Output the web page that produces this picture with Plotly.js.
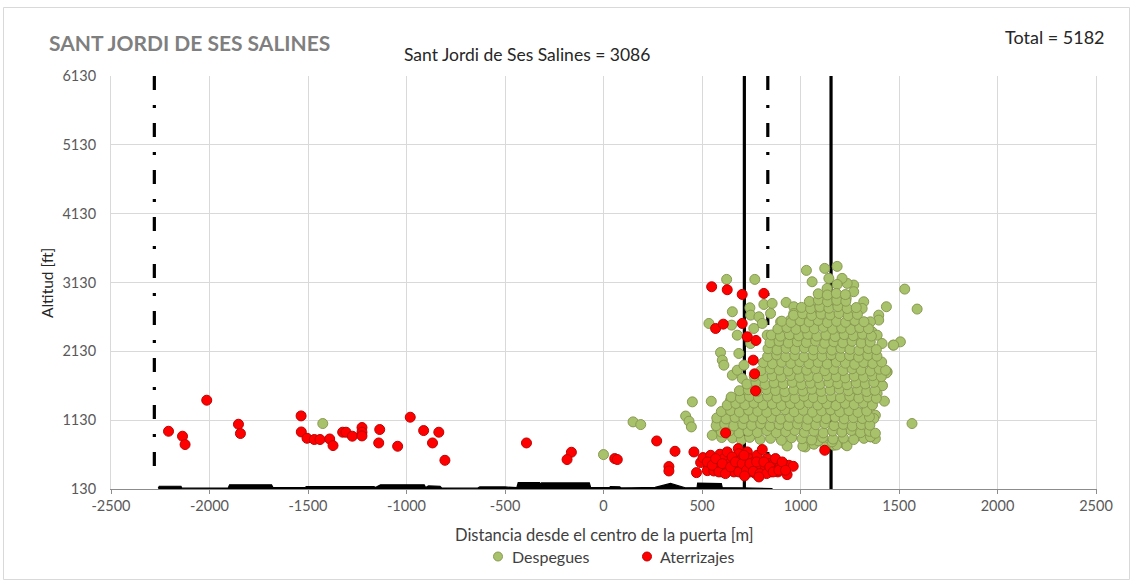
<!DOCTYPE html>
<html>
<head>
<meta charset="utf-8">
<script src="https://cdn.plot.ly/plotly-3.0.1.min.js"></script>
<style>
html,body{margin:0;padding:0;background:#fff;}
#chart{width:1133px;height:584px;}
</style>
</head>
<body>
<div id="chart"></div>
<script>
// ---- Texts ----
const chartTitle = "SANT JORDI DE SES SALINES";
const subTitle = "Sant Jordi de Ses Salines = 3086";
const totalText = "Total = 5182";
const xTitle = "Distancia desde el centro de la puerta [m]";
const yTitle = "Altitud [ft]";
const seriesNames = ["Despegues", "Aterrizajes"];

// ---- Axis ticks ----
const xTicks = [-2500, -2000, -1500, -1000, -500, 0, 500, 1000, 1500, 2000, 2500];
const yTicks = [130, 1130, 2130, 3130, 4130, 5130, 6130];

// ---- Reference lines (x positions in m) ----
const solidLinesX = [715, 1155];
const dashDotLinesX = [-2280, 834];
const dashDotBottom = 340;

// ---- Terrain profile along the axis [m, ft] ----
const terreno = [[-2260,140],[-2255,170],[-2145,170],[-2140,142],[-1905,145],[-1898,190],[-1685,190],[-1678,150],
  [-1515,152],[-1508,165],[-1165,165],[-1158,152],[-1132,190],[-910,190],[-903,150],[-888,175],[-830,170],[-822,145],
  [-640,142],[-628,160],[-500,160],[-440,150],[-433,222],[-325,222],[-320,200],[-315,218],[-72,218],[-65,150],
  [30,150],[35,165],[82,162],[90,145],[140,148],[262,155],[340,210],[405,165],[415,148],[475,152],[478,215],
  [598,210],[603,150],[700,148],[850,145],[855,135]];

// ---- Despegues (take-offs) [m, ft] ----
const despeguesDispersos = [
  [-1425,1081],[0,630],[150,1105],[189,1066],[417,1190],[434,1115],[446,1032],[451,1396],[547,1405],[552,911],[577,1032],[611,1154],
  [625,3175],[768,3175],[1030,3306],[1123,3335],[1186,3364],[1144,3190],[1059,3141],[1529,3034],[1592,2744],[1436,2778],
  [535,2535],[654,2705],[650,2511],[743,2763],[814,2811],[856,2826],[927,2840],[966,2778],[1507,2268],[1470,2220],
  [1397,2656],[1397,2584],[1321,2850],[1313,2753],[1270,3093],[1237,3117],[1211,3190],[1270,2996],[1232,2899],[1186,3102],
  [1135,3044],[1152,2875],[1093,2875],[1059,2753],[1110,2729],[1203,2778],[1220,2705],[1267,2714],[1355,2559],[1363,2414],
  [1330,2487],[747,2656],[789,2632],[806,2535],[763,2462],[848,2680],[899,2559],[916,2487],[949,2584],[966,2680],
  [1000,2511],[1034,2656],[1051,2559],[1085,2632],[1118,2511],[1169,2584],[1194,2462],[1237,2559],[1287,2584],[1254,2365],
  [1304,2317],[1389,2365],[1414,2244],[679,2365],[831,2365],[882,2268],[949,2317],[1017,2341],[1085,2317],[1152,2365],
  [1203,2268],[747,2244],[594,2113],[603,2002],[611,1929],[654,1784],[679,1856],[713,1929],[704,1735],[687,2099],
  [1338,2002],[1363,1905],[1406,1808],[1440,1832],[1414,1638],[1389,1517],[1363,1347],[1380,1202],[1321,1250],[1270,1493],
  [1566,1081],[1473,2220],[696,1541],[645,1420],[628,1250],[577,1105],[1436,1817],[1416,1630],[1426,1406],
  [1372,1154],[1380,863],[1355,887],[1025,741],[1169,766],[1228,775],[932,756],[1304,911]
];
const despeguesNucleo = [
  [1012,752],[1068,781],[1125,744],[1183,770],[1236,758],[1160,815],[1090,830],
  [600,878],[655,872],[700,845],[742,880],[795,851],[848,866],[903,838],[955,874],[1008,860],[1057,842],[1112,879],[1165,855],[1218,870],[1270,848],[1322,866],[1355,890],
  [598,958],[640,975],[688,944],[734,969],[781,950],[829,978],[877,946],[925,963],[972,981],[1020,952],[1068,970],[1116,945],[1163,973],[1210,957],[1258,980],[1305,949],[1350,968],[1380,940],
  [572,1050],[615,1072],[661,1046],[707,1068],[752,1055],[798,1079],[845,1043],[892,1066],[938,1052],[985,1075],[1031,1048],[1078,1063],[1124,1080],[1170,1051],[1217,1069],[1263,1044],[1309,1066],[1352,1058],
  [575,1162],[622,1148],[668,1171],[713,1155],[760,1176],[806,1150],[852,1168],[899,1146],[945,1173],[991,1158],[1037,1144],[1084,1170],[1130,1152],[1176,1175],[1222,1149],[1268,1167],[1314,1154],[1350,1178],
  [598,1255],[645,1270],[690,1248],[736,1276],[783,1259],[829,1244],[876,1268],[922,1281],[968,1252],[1014,1273],[1061,1246],[1107,1265],[1153,1279],[1199,1250],[1246,1268],[1292,1243],[1336,1262],
  [628,1348],[672,1372],[718,1355],[764,1378],[810,1351],[857,1366],[903,1343],[949,1371],[995,1358],[1042,1380],[1088,1349],[1134,1367],[1180,1344],[1227,1373],[1273,1356],[1319,1379],[1365,1352],
  [648,1466],[695,1449],[741,1474],[787,1457],[833,1480],[880,1452],[926,1468],[972,1447],[1018,1476],[1065,1459],[1111,1442],[1157,1470],[1203,1455],[1250,1478],[1296,1451],[1342,1466],[1385,1448],
  [690,1558],[735,1572],[781,1549],[827,1575],[873,1561],[920,1544],[966,1570],[1012,1553],[1058,1579],[1105,1548],[1151,1566],[1197,1582],[1243,1557],[1290,1574],[1336,1546],[1378,1563],
  [728,1655],[774,1678],[820,1649],[866,1671],[913,1658],[959,1680],[1005,1647],[1051,1669],[1098,1652],[1144,1677],[1190,1660],[1236,1645],[1283,1672],[1329,1656],[1372,1679],
  [765,1768],[811,1750],[857,1774],[903,1757],[950,1779],[996,1752],[1042,1766],[1088,1748],[1135,1775],[1181,1760],[1227,1744],[1273,1771],[1320,1755],[1366,1777],[1410,1762],
  [800,1852],[846,1874],[892,1858],[938,1845],[985,1871],[1031,1856],[1077,1879],[1123,1849],[1170,1867],[1216,1852],[1262,1876],[1308,1858],[1355,1844],[1400,1870],[1432,1855],
  [812,1966],[858,1949],[905,1972],[951,1955],[997,1978],[1043,1951],[1090,1969],[1136,1946],[1182,1974],[1228,1958],[1275,1941],[1321,1967],[1367,1953],[1412,1975],
  [833,2055],[879,2078],[925,2052],[971,2070],[1018,2049],[1064,2073],[1110,2058],[1156,2080],[1203,2053],[1249,2068],[1295,2045],[1342,2071],[1388,2060],
  [835,2168],[881,2150],[927,2174],[973,2157],[1020,2179],[1066,2152],[1112,2166],[1159,2148],[1205,2175],[1251,2159],[1297,2144],[1344,2170],[1385,2155],
  [845,2255],[891,2277],[938,2251],[984,2270],[1030,2258],[1077,2280],[1123,2247],[1169,2268],[1215,2253],[1262,2276],[1308,2250],[1354,2266],
  [852,2368],[898,2350],[944,2372],[991,2355],[1037,2377],[1083,2351],[1129,2366],[1176,2345],[1222,2373],[1268,2357],[1315,2379],[1360,2352],
  [885,2455],[931,2476],[977,2450],[1024,2470],[1070,2458],[1116,2481],[1163,2452],[1209,2469],[1255,2447],[1301,2474],[1345,2459],
  [905,2568],[952,2550],[998,2574],[1044,2557],[1090,2579],[1137,2548],[1183,2566],[1229,2552],[1276,2577],[1322,2560],
  [965,2655],[1011,2676],[1057,2651],[1104,2670],[1150,2658],[1196,2680],[1242,2648],[1289,2667],
  [1005,2768],[1051,2750],[1098,2774],[1144,2757],[1190,2779],[1237,2752],[1283,2766],
  [1045,2855],[1091,2876],[1137,2850],[1184,2871],[1230,2858],
  [1090,2966],[1136,2949],[1182,2972],[1228,2955]
];

// ---- Aterrizajes (landings) [m, ft] ----
const aterrizajesLejanos = [
  [-2208,969],[-2137,897],[-2124,776],[-2014,1420],[-1853,1071],[-1843,936],[-1535,1192],[-1534,959],[-1505,867],
  [-1468,849],[-1439,849],[-1390,857],[-1373,761],[-1324,955],[-1307,955],[-1275,897],[-1226,1023],[-1226,955],
  [-1226,901],[-1136,994],[-1141,799],[-1045,751],[-981,1173],[-913,979],[-868,799],[-836,955],[-805,547],
  [-391,799],[-163,664],[-185,558],[57,572],[70,558],[270,828],[363,678],[332,456],[332,392],[459,668]
];
const aterrizajesAltos = [
  [549,3068],[628,3025],[704,2957],[814,2971],[569,2462],[608,2525],[704,2535],[730,2341],[774,2288],
  [760,2002],[767,1803],[772,1556],[620,945],[1123,693]
];
const aterrizajesNucleo = [
  [472,368],[493,514],[505,586],[527,397],[544,620],[560,392],[577,450],[591,635],[603,378],[611,572],[625,460],
  [637,402],[648,523],[662,378],[679,450],[684,717],[687,644],[696,547],[704,402],[713,354],[721,475],[730,669],
  [738,572],[746,378],[755,450],[763,523],[772,354],[780,620],[789,402],[797,475],[806,703],[811,378],[822,426],
  [831,572],[839,499],[848,378],[856,450],[865,499],[882,450],[885,378],[899,475],[915,450],[932,339],[941,475],[963,460],
  [527,523],[552,475],[569,572],[586,378],[603,499],[619,354],[628,669],[645,450],[653,596],[670,523],[687,378],
  [704,499],[713,620],[726,402],[743,499],[760,387],[777,523],[794,354],[814,523],[828,354],[844,450],[861,378],
  [873,572],[890,402],[907,523],[924,402],[789,305],[716,320]
];

// ---- Build traces ----
const xs = a => a.map(p => p[0]);
const ys = a => a.map(p => p[1]);
const despegues = despeguesDispersos.concat(despeguesNucleo);
const aterrizajes = aterrizajesLejanos.concat(aterrizajesAltos, aterrizajesNucleo);

const GREEN = '#a7c26b', GREEN_LINE = '#8a9a52', RED = '#ff0000', RED_LINE = '#c00000';

const traces = [];
// terrain polygon
const terrX = xs(terreno).concat([terreno[terreno.length-1][0], terreno[0][0]]);
const terrY = ys(terreno).concat([120, 120]);
traces.push({type:'scatter', mode:'lines', x:terrX, y:terrY, fill:'toself', fillcolor:'#000',
  line:{color:'#000', width:1.2}, showlegend:false, hoverinfo:'skip'});
// solid lines
solidLinesX.forEach(v => traces.push({type:'scatter', mode:'lines', x:[v,v], y:[yTicks[yTicks.length-1], yTicks[0]],
  line:{color:'#000', width:3.2}, showlegend:false, hoverinfo:'skip'}));
// dash-dot lines
dashDotLinesX.forEach(v => traces.push({type:'scatter', mode:'lines', x:[v,v], y:[yTicks[yTicks.length-1], dashDotBottom],
  line:{color:'#000', width:3.2, dash:'14px,15px,3px,15px'}, showlegend:false, hoverinfo:'skip'}));

traces.push({type:'scatter', mode:'markers', name:seriesNames[0], x:xs(despegues), y:ys(despegues), showlegend:false,
  marker:{size:10, color:GREEN, line:{color:GREEN_LINE, width:1}}});
traces.push({type:'scatter', mode:'markers', name:seriesNames[1], x:xs(aterrizajes), y:ys(aterrizajes), showlegend:false,
  marker:{size:10, color:RED, line:{color:RED_LINE, width:1}}});

const L = 111, R = 1096, T = 76, B = 489;
const px = v => (v - L) / (R - L);
const py = v => (B - v) / (B - T);
const FONT = 'Lato, "Open Sans", sans-serif';

// legend drawn as symbols + labels
const legendItems = [
  {name:seriesNames[0], cx:498, tx:510, fill:GREEN, line:GREEN_LINE},
  {name:seriesNames[1], cx:647, tx:658, fill:RED, line:RED_LINE}
];
const legendY = 556.5;

const annotations = [
  {text:chartTitle, xref:'paper', yref:'paper', x:px(47), y:py(42), xanchor:'left', yanchor:'middle', showarrow:false,
    font:{family:FONT, size:21, color:'#7f7f7f', weight:'bold'}},
  {text:subTitle, xref:'paper', yref:'paper', x:px(527), y:py(54), xanchor:'center', yanchor:'middle', showarrow:false,
    font:{family:FONT, size:17.5, color:'#262626'}},
  {text:totalText, xref:'paper', yref:'paper', x:px(1107), y:py(37), xanchor:'right', yanchor:'middle', showarrow:false,
    font:{family:FONT, size:18, color:'#262626'}},
  {text:yTitle, xref:'paper', yref:'paper', x:px(47), y:py(283), xanchor:'center', yanchor:'middle', textangle:-90, showarrow:false,
    font:{family:FONT, size:15.5, color:'#262626'}},
  {text:xTitle, xref:'paper', yref:'paper', x:px(604), y:py(535), xanchor:'center', yanchor:'middle', showarrow:false,
    font:{family:FONT, size:16.5, color:'#404040'}}
];
const shapes = [
  {type:'rect', xref:'paper', yref:'paper', x0:px(3.5), x1:px(1129.5), y0:py(579.5), y1:py(7.5),
    line:{color:'#d9d9d9', width:1}, fillcolor:'rgba(0,0,0,0)', layer:'below'}
];
legendItems.forEach(it => {
  shapes.push({type:'circle', xref:'paper', yref:'paper', x0:px(it.cx-4.5), x1:px(it.cx+4.5), y0:py(legendY+4.5), y1:py(legendY-4.5),
    fillcolor:it.fill, line:{color:it.line, width:1}});
  annotations.push({text:it.name, xref:'paper', yref:'paper', x:px(it.tx), y:py(legendY), xanchor:'left', yanchor:'middle',
    showarrow:false, font:{family:FONT, size:16, color:'#404040'}});
});

const layout = {
  width:1133, height:584,
  margin:{l:L, r:1133-R, t:T, b:584-B, pad:0},
  paper_bgcolor:'#fff', plot_bgcolor:'#fff',
  font:{family:FONT, color:'#595959', size:13},
  showlegend:false,
  xaxis:{range:[-2500,2500], tickvals:xTicks, ticktext:xTicks.map(String), showgrid:true, gridcolor:'#d9d9d9', gridwidth:1,
    zeroline:false, showline:true, linecolor:'#8c8c8c', linewidth:1, ticks:'outside', ticklen:4, tickcolor:'#8c8c8c',
    tickfont:{family:FONT, size:14.5, color:'#595959'}, fixedrange:true},
  yaxis:{range:[130,6130], tickvals:yTicks, ticktext:yTicks.map(String), showgrid:true, gridcolor:'#d9d9d9', gridwidth:1,
    zeroline:false, showline:true, linecolor:'#d9d9d9', linewidth:1, mirror:true, ticks:'', ticklabelstandoff:11,
    tickfont:{family:FONT, size:14.5, color:'#595959'}, fixedrange:true},
  annotations:annotations,
  shapes:shapes
};

Plotly.newPlot('chart', traces, layout, {displayModeBar:false, staticPlot:true});
</script>
</body>
</html>
